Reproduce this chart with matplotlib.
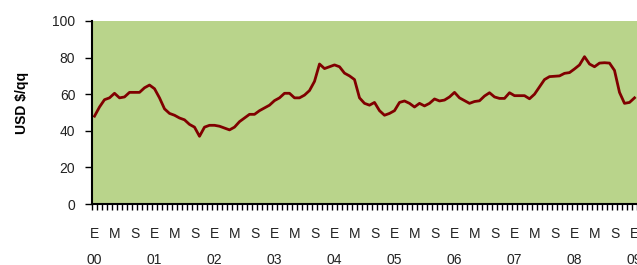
import numpy as np
import matplotlib
matplotlib.use('Agg')
import matplotlib.pyplot as plt
import matplotlib.transforms as mtransforms

# monthly price, Jan 2000 .. Jan 2009 (USD $/qq)
price_2000 = [48, 53, 57, 58, 60.5, 58, 58.5, 61, 61, 61, 63.5, 65]
price_2001 = [63, 58, 52, 49.5, 48.5, 47, 46, 43.5, 42, 37, 42, 43]
price_2002 = [43, 42.5, 41.5, 40.5, 42, 45, 47, 49, 49, 51, 52.5, 54]
price_2003 = [56.5, 58, 60.5, 60.5, 58, 58, 59.5, 62, 67, 76.5, 74, 75]
price_2004 = [76, 75, 71.5, 70, 68, 58, 55, 54, 55.5, 51, 48.5, 49.5]
price_2005 = [51, 55.5, 56.3, 55, 53, 55, 53.6, 55, 57.4, 56.3, 56.8, 58.5]
price_2006 = [61, 58, 56.5, 55, 56, 56.4, 59, 60.8, 58.5, 57.7, 57.7, 60.8]
price_2007 = [59.2, 59.2, 59.2, 57.5, 60, 64, 68, 69.6, 69.8, 70, 71.4, 71.8]
price_2008 = [73.8, 76, 80.5, 76.5, 75, 77, 77.2, 77, 73, 61, 55, 55.5]
price_2009 = [58]

prices = (price_2000 + price_2001 + price_2002 + price_2003 + price_2004 +
          price_2005 + price_2006 + price_2007 + price_2008 + price_2009)

month_letters = ['E', 'M', 'S']
year_labels = ['00', '01', '02', '03', '04', '05', '06', '07', '08', '09']

bg_color = '#b9d48b'
line_color = '#800000'
text_color = '#222222'

plt.rcParams['font.family'] = ['Liberation Sans', 'DejaVu Sans']

fig = plt.figure(figsize=(6.37, 2.65), dpi=100)
fig.patch.set_facecolor('white')

n_months = len(prices)
x = np.arange(n_months)
xmin, xmax = -0.5, 110.5
px_per_month = 5.0
ax_w = (xmax - xmin) * px_per_month / 637
ax = fig.add_axes([92 / 637, (265 - 204) / 265, ax_w, (204 - 21) / 265])
ax.set_facecolor(bg_color)

ax.plot(x, prices, color=line_color, lw=2.0, solid_joinstyle='round')

ax.set_xlim(xmin, xmax)
ax.set_ylim(0, 100)
ax.set_yticks([0, 20, 40, 60, 80, 100])
ax.tick_params(axis='y', length=5, width=1, colors='black', labelcolor=text_color,
               labelsize=10, pad=7)

# month tick marks between categories
ax.set_xticks(np.arange(n_months + 2) - 0.5)
ax.set_xticklabels([])
ax.tick_params(axis='x', length=4, width=1, colors='black')

for side in ['top', 'right']:
    ax.spines[side].set_visible(False)
for side in ['left', 'bottom']:
    ax.spines[side].set_linewidth(1.5)

trans = mtransforms.blended_transform_factory(ax.transData, fig.transFigure)
for i in range(0, n_months, 4):
    ax.text(i, 1 - 233.5 / 265, month_letters[(i // 4) % 3], transform=trans,
            ha='center', va='center', fontsize=10, color=text_color, clip_on=False)
for k, lab in enumerate(year_labels):
    ax.text(k * 12, 1 - 260 / 265, lab, transform=trans,
            ha='center', va='center', fontsize=10, color=text_color, clip_on=False)

fig.text(22 / 637, 1 - 103 / 265, 'USD $/qq', rotation=90, ha='center', va='center',
         fontsize=10, fontweight='bold', color='black')

fig.savefig('out.png', dpi=100, facecolor='white')
